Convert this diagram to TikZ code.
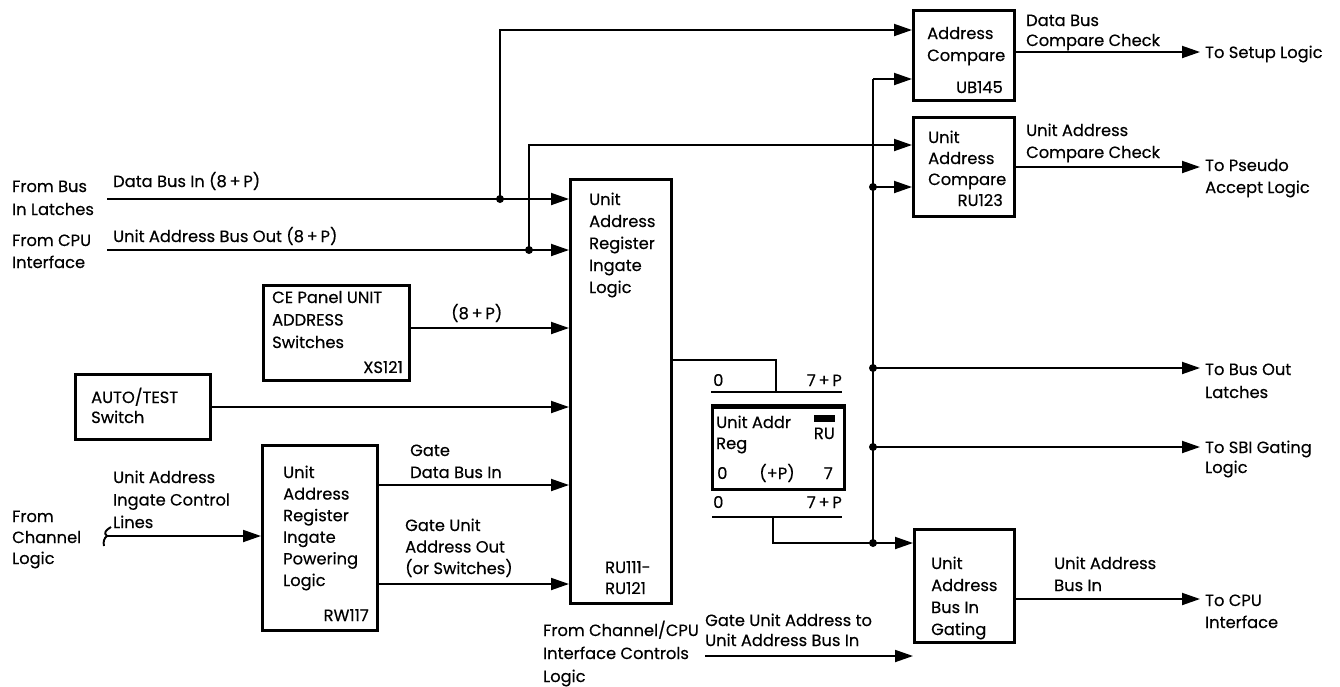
\documentclass[tikz,border=0pt]{standalone}
\usepackage{fontspec}
\setmainfont{Poppins}[FakeBold=0.35]
\usetikzlibrary{arrows.meta,calc}
\begin{document}
\begin{tikzpicture}[x=1pt,y=-1pt,
  every node/.style={font=\fontsize{16.3}{22}\selectfont},
  ls/.style={font=\fontsize{16.3}{#1}\selectfont},
  box/.style={draw, line width=2.6pt, rectangle, inner sep=0pt, anchor=north west},
  wire/.style={line width=1.9pt},
  arr/.style={wire, -{Triangle[length=18pt,width=12pt]}},
  jdot/.style={circle, fill, inner sep=0pt, minimum size=8pt},
  txt/.style={inner sep=0pt, anchor=base west, align=left},
  rtxt/.style={inner sep=0pt, anchor=base east, align=right},
]
\useasboundingbox (0,0) rectangle (1340,686);

% ---------------- boxes
\node[box, minimum width=101pt, minimum height=90pt]  (ac)   at (912,9)   {};
\node[box, minimum width=101pt, minimum height=99pt]  (uac)  at (912,116) {};
\node[box, minimum width=100pt, minimum height=113pt] (gate) at (913,528) {};
\node[box, minimum width=101pt, minimum height=424pt] (big)  at (569,178) {};
\node[box, minimum width=146pt, minimum height=95pt]  (ce)   at (262,284) {};
\node[box, minimum width=135pt, minimum height=65pt]  (auto) at (74,373)  {};
\node[box, minimum width=115pt, minimum height=185pt] (pow)  at (261,444) {};
\node[box, line width=3.4pt, minimum width=132pt, minimum height=82pt] (reg) at (711,406) {};
\draw[line width=5pt] (reg.north west) -- (reg.north east);

% ---------------- box texts (base = baseline of last line)
\node[txt, ls=22] (acT) at (927,61) {Address\\Compare};
\node[rtxt] (acC) at (1003,93) {UB145};
\node[txt, ls=21] (uacT) at (928,185) {Unit\\Address\\Compare};
\node[rtxt] (uacC) at (1003,206) {RU123};
\node[txt, ls=22] (gateT) at (931,635) {Unit\\Address\\Bus In\\Gating};
\node[txt, ls=22] (bigT) at (589,293) {Unit\\Address\\Register\\Ingate\\Logic};
\node[txt, ls=21] (bigC) at (605,594) {RU111-\\RU121};
\node[txt, ls=22.5] (ceT) at (272,348) {CE Panel UNIT\\ADDRESS\\Switches};
\node[rtxt] (ceC) at (403,373) {XS121};
\node[txt, ls=20] (autoT) at (91,423) {AUTO/TEST\\Switch};
\node[txt, ls=21.6] (powT) at (283,586) {Unit\\Address\\Register\\Ingate\\Powering\\Logic};
\node[rtxt] (powC) at (369,621) {RW117};
\node[txt, ls=21] (regT) at (716,449) {Unit Addr\\Reg};
\node[rtxt] (regRU) at (835,439) {RU};
\fill (814,415) rectangle (835,422);
\node[txt] (regB0) at (717,479) {0};
\node[inner sep=0pt, anchor=base] (regBP) at (777,479) {(+P)};
\node[rtxt] (regB7) at (833,479) {7};

% ---------------- free labels
\node[txt, ls=23] (fromBus) at (12,215) {From Bus\\In Latches};
\node[txt, ls=22] (fromCPU) at (12,268) {From CPU\\Interface};
\node[txt] (dbinL) at (113,187) {Data Bus In (8\,+\,P)};
\node[txt] (uabL) at (113,242) {Unit Address Bus Out (8\,+\,P)};
\node[txt] (p8L) at (451,319) {(8\,+\,P)};
\node[txt, ls=22.5] (uaicL) at (113,528) {Unit Address\\Ingate Control\\Lines};
\node[txt, ls=21] (fromCh) at (12,564) {From\\Channel\\Logic};
\node[txt, ls=22] (gdbL) at (410,478) {Gate\\Data Bus In};
\node[txt, ls=21.5] (guaL) at (405,574) {Gate Unit\\Address Out\\(or Switches)};
\node[txt] (up0) at (713,386) {0};
\node[rtxt] (up7) at (842,386) {7\,+\,P};
\node[txt] (lo0) at (713,508) {0};
\node[rtxt] (lo7) at (842,508) {7\,+\,P};
\node[txt, ls=20] (dbcc) at (1026,46) {Data Bus\\Compare Check};
\node[txt, ls=22] (uacc) at (1026,158) {Unit Address\\Compare Check};
\node[txt] (toSetup) at (1205,58) {To Setup Logic};
\node[txt, ls=22] (toPseudo) at (1205,193) {To Pseudo\\Accept Logic};
\node[txt, ls=23] (toBus) at (1205,398) {To Bus Out\\Latches};
\node[txt, ls=20] (toSBI) at (1205,473) {To SBI Gating\\Logic};
\node[txt, ls=22] (uabi) at (1054,591) {Unit Address\\Bus In};
\node[txt, ls=22] (toCPU) at (1205,628) {To CPU\\Interface};
\node[txt, ls=20] (guaTo) at (705,646) {Gate Unit Address to\\Unit Address Bus In};
\node[txt, ls=23] (fromChCPU) at (543,682) {From Channel/CPU\\Interface Controls\\Logic};

% ---------------- coordinates
\coordinate (dbs) at (107,199);
\coordinate (uas) at (107,250);
\coordinate (ac1) at (912,30);
\coordinate (uac1) at (912,145);
\coordinate (bt) at (873,79);
\coordinate (c1) at (408,328);
\coordinate (a1) at (209,407);
\coordinate (g1) at (376,485);
\coordinate (g2) at (376,584);
\coordinate (br) at (107,536);
\coordinate (r1) at (670,360);
\coordinate (r2) at (776,392);
\coordinate (rbA) at (711,392);
\coordinate (rbB) at (842,392);
\coordinate (rcA) at (712,517);
\coordinate (rcB) at (842,517);
\coordinate (r3) at (773,517);
\coordinate (gin) at (705,656);
\coordinate (o1s) at (1013,52);   \coordinate (o1e) at (1200,52);
\coordinate (o2s) at (1013,167);  \coordinate (o2e) at (1200,167);
\coordinate (o3e) at (1200,368);
\coordinate (o4e) at (1200,447);
\coordinate (o5s) at (1013,599);  \coordinate (o5e) at (1200,599);

% ---------------- junction dots
\node[jdot] (j1) at (500,199) {};
\node[jdot] (j2) at (529,250) {};
\node[jdot] (jb1) at (873,187) {};
\node[jdot] (jb2) at (873,368) {};
\node[jdot] (jb3) at (873,447) {};
\node[jdot] (jb4) at (873,543) {};

% ---------------- connectors
\draw[arr] (dbs) -- (dbs -| big.west);
\draw[arr] (uas) -- (uas -| big.west);
\draw[arr] (j1.center) |- (ac1);
\draw[arr] (j2.center) |- (uac1);
\draw[arr] (c1) -- (c1 -| big.west);
\draw[arr] (a1) -- (a1 -| big.west);
\draw[arr] (g1) -- (g1 -| big.west);
\draw[arr] (g2) -- (g2 -| big.west);
\draw[arr] (br) -- (br -| pow.west);
\draw[wire] (br) .. controls (103,533) and (106,530) .. (111,527);
\draw[wire] (br) .. controls (104,538) and (103,542) .. (104,546);

\draw[wire] (bt) -- (jb4.center);
\draw[arr] (bt) -- (bt -| ac.west);
\draw[arr] (jb1.center) -- (jb1.center -| uac.west);
\draw[arr] (jb2.center) -- (o3e);
\draw[arr] (jb3.center) -- (o4e);

\draw[wire] (r1) -| (r2);
\draw[wire] (rbA) -- (rbB);
\draw[wire] (rcA) -- (rcB);
\draw[wire] (r3) |- (jb4.center);
\draw[arr] (jb4.center) -- (jb4.center -| gate.west);
\draw[arr] (gin) -- (gin -| gate.west);

\draw[arr] (o1s) -- (o1e);
\draw[arr] (o2s) -- (o2e);
\draw[arr] (o5s) -- (o5e);
\end{tikzpicture}
\end{document}
